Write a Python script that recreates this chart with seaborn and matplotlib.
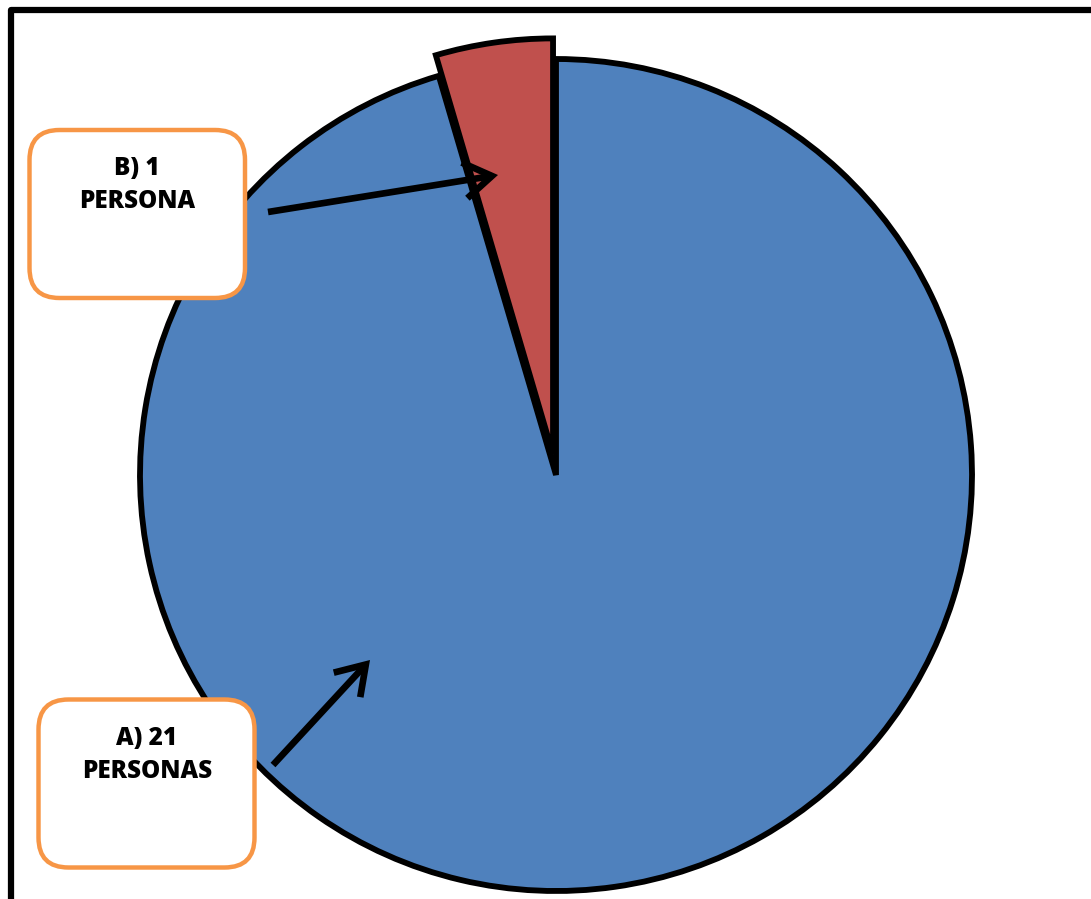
import matplotlib
matplotlib.use("Agg")
import matplotlib.pyplot as plt
import seaborn as sns
from matplotlib.patches import FancyBboxPatch, FancyArrowPatch
from matplotlib.lines import Line2D

categories = ["A", "B"]
values = [21, 1]
label_texts = ["A) 21\nPERSONAS", "B) 1\nPERSONA"]
colors = ["#4F81BD", "#C0504D"]

sns.set_theme(style="white")
plt.rcParams['font.family'] = ['Open Sans', 'DejaVu Sans']

W, H = 1091, 899
fig = plt.figure(figsize=(W / 100, H / 100), dpi=100)
ax = fig.add_axes([0, 0, 1, 1])

def Y(y):
    return H - y

R = 416
ax.pie(values, colors=colors, startangle=90, counterclock=False,
       explode=[0, 0.05 * R], center=(556, Y(475)), radius=R,
       wedgeprops=dict(edgecolor="black", linewidth=4.2, joinstyle="miter"))
ax.set_xlim(0, W)
ax.set_ylim(0, H)
ax.set_aspect('equal')
ax.axis('off')

# outer frame (partly off-canvas)
ax.add_line(Line2D([11, 11, W + 20], [-20, Y(10), Y(10)], color="black",
                   linewidth=4.5, solid_joinstyle="round", solid_capstyle="butt"))

# label boxes
boxes = [(38.5, 699.5, 254.5, 867.5), (29.5, 130, 245, 298)]
text_pos = [(147, 755), (137, 185)]
arrows = [((273, 765), (370, 660)), ((268, 212), (498, 175))]
for (x0, y0, x1, y1), (tx, ty), txt, (p0, p1) in zip(boxes, text_pos, label_texts, arrows):
    ax.add_patch(FancyBboxPatch((x0, Y(y1)), x1 - x0, y1 - y0,
                                boxstyle="round,pad=0,rounding_size=30",
                                facecolor="white", edgecolor="#F79646", linewidth=3.2))
    ax.text(tx, Y(ty), txt, ha="center", va="center", fontsize=17.5,
            fontweight="heavy", color="black", linespacing=1.4)
    ax.add_patch(FancyArrowPatch((p0[0], Y(p0[1])), (p1[0], Y(p1[1])),
                                 arrowstyle="->,head_length=20,head_width=13",
                                 mutation_scale=1, color="black", linewidth=4.8,
                                 shrinkA=0, shrinkB=0, joinstyle="miter",
                                 capstyle="butt"))

fig.savefig("out.png", dpi=100)
